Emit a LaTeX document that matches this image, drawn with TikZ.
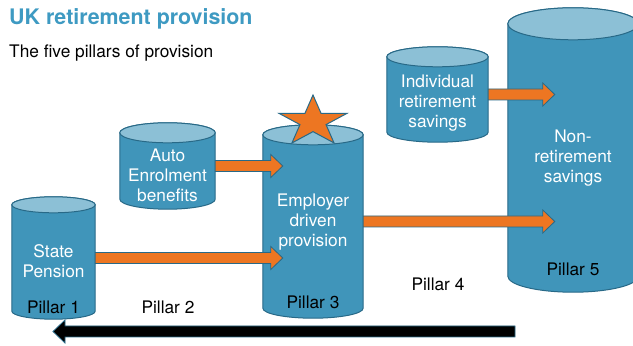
\documentclass[tikz,border=0pt]{standalone}
\usepackage{fontspec}
\setmainfont{TeX Gyre Heros}
\usetikzlibrary{calc}

\definecolor{tankblue}{RGB}{64,149,186}
\definecolor{tanklid}{RGB}{140,192,214}
\definecolor{tankedge}{RGB}{40,105,135}
\definecolor{flowfill}{RGB}{237,118,34}
\definecolor{headblue}{RGB}{62,154,194}

\tikzset{
  body/.style={rectangle, inner sep=0pt},
  tank/.style={draw=tankedge, line width=1pt},
  words/.style={font=\fontsize{17.3}{20}\selectfont, align=center, inner sep=0pt},
  inside/.style={words, text=white},
  % block arrow between two points, only the start's height is used
  flow/.style={draw=tankedge, line width=0.8pt, fill=flowfill,
    to path={let \p1=(\tikztostart), \p2=(\tikztotarget), \n1={sign(\x2-\x1)} in
      (\x1,\y1+5.5) -- (\x2-12*\n1,\y1+5.5) -- (\x2-12*\n1,\y1+11.5) -- (\x2,\y1)
      -- (\x2-12*\n1,\y1-11.5) -- (\x2-12*\n1,\y1-5.5) -- (\x1,\y1-5.5) -- cycle}}
}

\begin{document}
\begin{tikzpicture}[x=1pt, y=1pt]
  \useasboundingbox (0,0) rectangle (633,346);

  \node[anchor=base west, text=headblue, inner sep=0pt, font=\fontsize{21.4}{24}\selectfont\bfseries] (title) at (9,321) {UK retirement provision};
  \node[anchor=base west, words] (sub) at (9,288) {The five pillars of provision};

  % bodies run between the centres of the two end ellipses
  \node[body, minimum width=83, minimum height=106] (p1) at (53.5,88) {};
  \node[body, minimum width=95, minimum height=66] (p2) at (167.5,180) {};
  \node[body, minimum width=100, minimum height=173] (p3) at (313,124.5) {};
  \node[body, minimum width=101, minimum height=75] (p4) at (437.5,251.5) {};
  \node[body, minimum width=130, minimum height=252] (p5) at (573,196) {};

  \foreach \c/\r in {p1/8, p2/10, p3/10, p4/10, p5/16}{
    \draw[tank, fill=tankblue] let \p1=(\c.west), \p2=(\c.east), \n1={(\x2-\x1)/2} in
      (\c.north west) -- (\c.south west)
      arc[start angle=180, end angle=360, x radius=\n1, y radius=\r pt]
      -- (\c.north east)
      arc[start angle=0, end angle=180, x radius=\n1, y radius=\r pt] -- cycle;
    \draw[tank, fill=tanklid] let \p1=(\c.west), \p2=(\c.east), \n1={(\x2-\x1)/2} in
      (\c.north) ellipse[x radius=\n1, y radius=\r pt];
  }

  % flows into pillar 3 and pillar 5
  \draw[flow] (p1.east) to ([xshift=20]p3.west);
  \draw[flow] (p2.east) to ([xshift=20]p3.west);
  \draw[flow] (p3.east) to ([xshift=47]p5.west);
  \draw[flow] (p4.east) to ([xshift=47]p5.west);

  \coordinate (now) at (515,14.5);
  \coordinate (past) at (53,14.5);
  \draw[flow, fill=black] (now) to (past);

  \node[inside] (t1) at (53.5,85) {State\\Pension};
  \node[inside] (t2) at (167.5,171) {Auto\\Enrolment\\benefits};
  \node[inside] (t3) at (313,124) {Employer\\driven\\provision};
  \node[inside] (t4) at (437.5,243) {Individual\\retirement\\savings};
  \node[inside] (t5) at (573,188) {Non-\\retirement\\savings};

  \node[words] (n1) at (53.5,39) {Pillar 1};
  \node[words] (n2) at (168,39) {Pillar 2};
  \node[words] (n3) at (313,44) {Pillar 3};
  \node[words] (n4) at (438,62) {Pillar 4};
  \node[words] (n5) at (573,77) {Pillar 5};

  % star on top of pillar 3
  \begin{scope}[shift={(313,224.5)}, yscale=0.74]
    \draw[tank, fill=flowfill] (90:35.8)
      \foreach \k in {1,...,9}{ -- ({90+36*\k}:{ifthenelse(mod(\k,2)==0,35.8,13.7)}) } -- cycle;
  \end{scope}
\end{tikzpicture}
\end{document}
